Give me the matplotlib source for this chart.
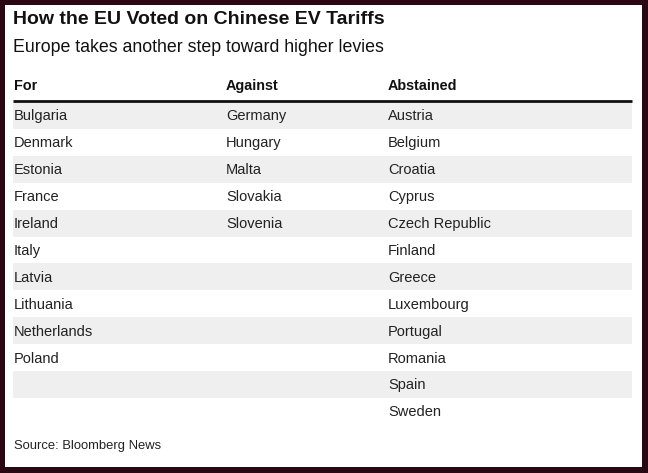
import matplotlib
matplotlib.use("Agg")
import matplotlib.pyplot as plt
from matplotlib.patches import Rectangle

plt.rcParams['font.family'] = ['Liberation Sans', 'DejaVu Sans']

title = "How the EU Voted on Chinese EV Tariffs"
subtitle = "Europe takes another step toward higher levies"
source = "Source: Bloomberg News"
headers = ["For", "Against", "Abstained"]
votes_for = ["Bulgaria", "Denmark", "Estonia", "France", "Ireland", "Italy",
             "Latvia", "Lithuania", "Netherlands", "Poland"]
votes_against = ["Germany", "Hungary", "Malta", "Slovakia", "Slovenia"]
votes_abstained = ["Austria", "Belgium", "Croatia", "Cyprus", "Czech Republic",
                   "Finland", "Greece", "Luxembourg", "Portugal", "Romania",
                   "Spain", "Sweden"]
columns = [votes_for, votes_against, votes_abstained]

W, H = 648, 473
fig = plt.figure(figsize=(W / 100, H / 100), dpi=100)
fig.patch.set_facecolor('#2a0813')
ax = fig.add_axes([0, 0, 1, 1])
ax.set_xlim(0, W)
ax.set_ylim(H, 0)
ax.axis('off')

# white card
ax.add_patch(Rectangle((5, 5), 637, 462, facecolor='white', edgecolor='none'))

txt = '#111111'
ax.text(13, 19, title, fontsize=14.0, fontweight='bold', color=txt, va='center', ha='left')
ax.text(13, 47, subtitle, fontsize=12.8, color=txt, va='center', ha='left')

col_x = [14, 226, 388]
for x, h in zip(col_x, headers):
    ax.text(x, 86, h, fontsize=10.4, fontweight='bold', color=txt, va='center', ha='left')

left, right = 13, 632
ax.plot([left, right], [101, 101], color='#111111', lw=2.0, solid_capstyle='butt')

nrows = max(len(c) for c in columns)
row_top = 102
row_h = 26.9
for i in range(nrows):
    if i % 2 == 0:
        ax.add_patch(Rectangle((left, row_top + i * row_h), right - left, row_h,
                               facecolor='#efefef', edgecolor='none'))
for x, col in zip(col_x, columns):
    for i, name in enumerate(col):
        ax.text(x, row_top + (i + 0.5) * row_h + 1, name, fontsize=10.5, color='#222222',
                va='center', ha='left')

ax.text(14, 446, source, fontsize=9.4, color='#222222', va='center', ha='left')

fig.savefig('out.png', dpi=100, facecolor=fig.get_facecolor())
